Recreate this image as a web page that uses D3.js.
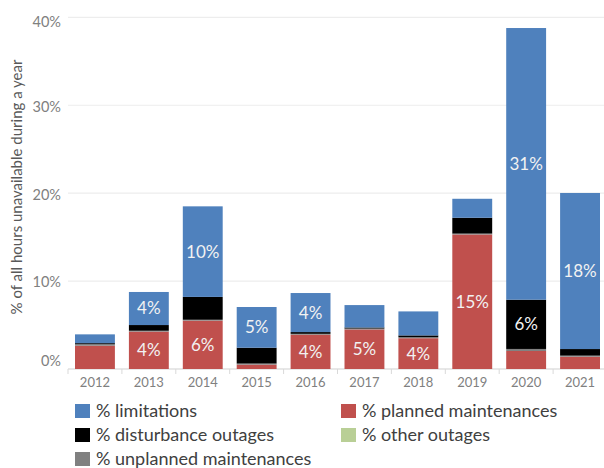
<!DOCTYPE html>
<html><head><meta charset="utf-8">
<script src="https://cdn.jsdelivr.net/npm/d3@7"></script>
<style>
html,body{margin:0;padding:0;background:#fff;}
svg{display:block;font-family:Lato,"Open Sans",sans-serif;}
</style></head>
<body>
<svg id="chart" width="604" height="468"></svg>
<script>
const years = ["2012","2013","2014","2015","2016","2017","2018","2019","2020","2021"];
const planned     = [2.65, 4.25, 5.5, 0.5, 3.9, 4.5, 3.5, 15.3, 2.05, 1.4];
const other       = [0, 0, 0, 0, 0, 0, 0, 0, 0, 0];
const unplanned   = [0.17, 0.1, 0.1, 0.12, 0.1, 0.1, 0.12, 0.1, 0.23, 0.12];
const disturbance = [0.12, 0.65, 2.6, 1.8, 0.2, 0.12, 0.2, 1.8, 5.6, 0.75];
const limitations = [1.0, 3.76, 10.3, 4.63, 4.44, 2.55, 2.73, 2.16, 30.9, 17.75];
const yTicks = [0, 10, 20, 30, 40];

const seriesDefs = [
  {key:"planned", name:"% planned maintenances", values:planned, color:"#C0504D"},
  {key:"other", name:"% other outages", values:other, color:"#B9CF96"},
  {key:"unplanned", name:"% unplanned maintenances", values:unplanned, color:"#808080"},
  {key:"disturbance", name:"% disturbance outages", values:disturbance, color:"#000000"},
  {key:"limitations", name:"% limitations", values:limitations, color:"#4F81BD"}
];

const rows = years.map((y,i)=>{const o={year:y}; seriesDefs.forEach(s=>o[s.key]=s.values[i]); return o;});
const stack = d3.stack().keys(seriesDefs.map(s=>s.key))(rows);

const svg = d3.select("#chart");
const x = d3.scaleBand().domain(years).range([68,607]).paddingInner(0.26).paddingOuter(0.13);
const y = d3.scaleLinear().domain([0,40]).range([369,17.3]);

// gridlines
svg.append("g").selectAll("line").data(yTicks).join("line")
  .attr("x1",68).attr("x2",604)
  .attr("y1",d=>y(d)).attr("y2",d=>y(d))
  .attr("stroke","#EDEDED").attr("stroke-width",1.2);

// y axis labels
const yAxis = d3.axisLeft(y).tickValues(yTicks).tickFormat(d=>d+"%").tickSize(0).tickPadding(7);
const gy = svg.append("g").attr("transform","translate(68,0)").call(yAxis);
gy.select(".domain").remove();
const labelShift = {0:-8.5, 10:1, 20:1.5, 30:1.5, 40:4.5};
gy.selectAll(".tick text").attr("fill","#808080").style("font-size","14.5px").style("font-family","Lato")
  .attr("y",d=>labelShift[d]);

// x axis baseline + category ticks
const gx = svg.append("g").attr("transform","translate(0,369)");
gx.append("line").attr("x1",68).attr("x2",604).attr("y1",0).attr("y2",0).attr("stroke","#D9D9D9");
const bounds = years.map(d=>x(d)-x.step()*x.paddingInner()/2);
gx.selectAll("line.tk").data(bounds).join("line").attr("class","tk")
  .attr("x1",d=>d).attr("x2",d=>d).attr("y1",0).attr("y2",5).attr("stroke","#D9D9D9");
gx.selectAll("text").data(years).join("text")
  .attr("x",d=>x(d)+x.bandwidth()/2).attr("y",18)
  .attr("text-anchor","middle").attr("fill","#808080")
  .style("font-size","13px").text(d=>d);

// bars
const colorOf = Object.fromEntries(seriesDefs.map(s=>[s.key,s.color]));
const layers = svg.append("g").selectAll("g").data(stack).join("g").attr("fill",d=>colorOf[d.key]);
layers.selectAll("rect").data(d=>d).join("rect")
  .attr("x",d=>x(d.data.year)).attr("width",x.bandwidth())
  .attr("y",d=>y(d[1])).attr("height",d=>Math.max(0,y(d[0])-y(d[1])));

// data labels
const labels = [];
stack.forEach(layer=>layer.forEach(d=>{
  const v = d[1]-d[0];
  if (v >= 3) labels.push({year:d.data.year, mid:(d[0]+d[1])/2, text:Math.round(v)+"%"});
}));
svg.append("g").selectAll("text").data(labels).join("text")
  .attr("x",d=>x(d.year)+x.bandwidth()/2).attr("y",d=>y(d.mid))
  .attr("dy","0.35em").attr("text-anchor","middle")
  .attr("fill","#F2F2F2").style("font-size","17px").text(d=>d.text);

// y title
svg.append("text").attr("transform","translate(22,187) rotate(-90)")
  .attr("text-anchor","middle").attr("fill","#595959").style("font-size","15px")
  .text("% of all hours unavailable during a year");

// legend
const legendOrder = ["limitations","planned","disturbance","other","unplanned"];
const lg = svg.append("g");
legendOrder.forEach((k,i)=>{
  const s = seriesDefs.find(d=>d.key===k);
  const col = i%2, row = Math.floor(i/2);
  const gx0 = col===0 ? 75 : 341;
  const cy = 411 + row*24;
  lg.append("rect").attr("x",gx0).attr("y",cy-7).attr("width",15).attr("height",14).attr("fill",s.color);
  lg.append("text").attr("x",gx0+21).attr("y",cy).attr("dy","0.35em")
    .attr("fill","#404040").style("font-size","18px").text(s.name);
});
</script>
</body></html>
